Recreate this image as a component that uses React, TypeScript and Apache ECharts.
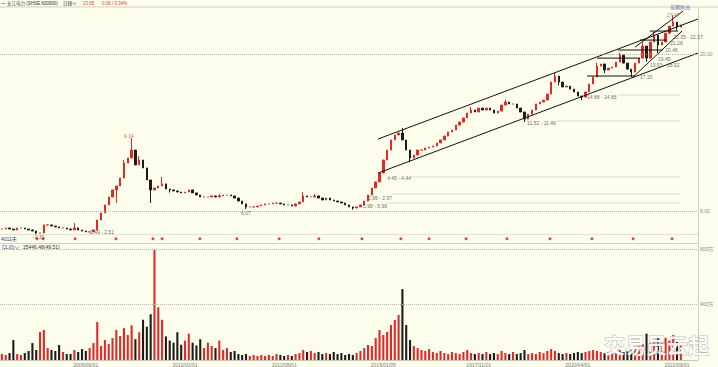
import React, { useEffect, useRef } from 'react';
import * as echarts from 'echarts';

// ---------- data ----------
const N_SLOTS = 183;

// close price of each bar (about 22 trading days per bar)
const closes = [
  6.62, 6.70, 6.62, 6.55, 6.70, 6.70, 6.62, 6.55, 6.47, 6.32,
  6.32, 6.93, 6.93, 6.85, 6.78, 6.70, 6.70, 6.62, 6.55, 6.70,
  6.55, 6.47, 6.40, 6.40, 6.55, 7.31, 7.85, 8.46, 9.07, 9.61,
  9.91, 10.52, 11.67, 12.05, 12.66, 11.52, 11.90, 11.29, 10.37, 9.61,
  9.76, 9.91, 10.07, 9.68, 9.61, 9.53, 9.45, 9.38, 9.45, 9.61,
  9.38, 9.22, 9.07, 9.07, 9.07, 9.15, 9.07, 9.15, 9.22, 9.22,
  9.15, 8.99, 8.76, 8.54, 8.31, 8.31, 8.31, 8.38, 8.46, 8.54,
  8.54, 8.61, 8.61, 8.54, 8.46, 8.46, 8.38, 8.54, 8.69, 9.15,
  9.07, 9.07, 9.15, 8.99, 8.84, 8.99, 8.84, 8.76, 8.69, 8.61,
  8.46, 8.31, 8.23, 8.31, 8.46, 8.76, 9.22, 9.76, 10.22, 10.90,
  11.90, 12.66, 13.43, 13.81, 13.96, 13.43, 12.66, 12.05, 12.28, 12.66,
  12.66, 12.82, 12.89, 12.97, 13.20, 13.43, 13.73, 14.04, 14.19, 14.57,
  14.80, 15.11, 15.49, 15.72, 15.57, 15.87, 15.72, 15.87, 15.72, 15.49,
  15.64, 16.10, 16.33, 16.18, 16.18, 15.87, 15.57, 15.03, 15.41, 15.72,
  16.18, 16.33, 16.48, 16.94, 17.86, 18.32, 17.86, 17.48, 17.55, 17.32,
  17.10, 16.79, 16.71, 17.10, 17.71, 18.24, 19.08, 19.24, 18.78, 18.93,
  19.01, 19.39, 19.92, 19.31, 18.85, 18.62, 19.31, 19.69, 20.61, 19.69,
  20.92, 21.45, 20.69, 20.92, 21.60, 22.14, 22.45, 22.06, 22.22,
];

// notable wicks: [bar index, price]
const highWicks: [number, number][] = [
  [19, 7.08], [32, 11.9], [34, 13.58], [36, 12.2], [42, 10.6], [57, 9.3], [79, 9.45], [82, 9.3],
  [105, 14.34], [123, 15.95], [132, 16.5], [145, 18.55], [156, 19.35], [162, 20.1], [168, 20.9], [171, 21.7], [176, 22.98],
];
const lowWicks: [number, number][] = [
  [9, 6.24], [30, 8.61], [39, 8.61], [44, 9.4], [64, 8.15], [92, 8.1], [107, 11.75], [120, 14.6],
  [137, 14.8], [146, 17.6], [152, 16.48], [158, 18.55], [165, 18.24], [169, 19.4], [172, 20.08], [177, 21.8],
];

// volume of each bar, 万
const volumes = [
  43, 36, 50, 144, 43, 36, 50, 65, 122, 72,
  202, 216, 86, 72, 65, 108, 58, 43, 43, 72,
  58, 79, 65, 86, 122, 274, 101, 144, 115, 158,
  216, 173, 230, 180, 250, 150, 200, 290, 240, 330,
  792, 380, 290, 170, 140, 125, 200, 110, 140, 190,
  125, 105, 150, 86, 125, 101, 86, 140, 72, 86,
  58, 65, 43, 36, 43, 29, 36, 29, 36, 29,
  36, 29, 43, 36, 29, 36, 29, 43, 50, 72,
  58, 65, 50, 58, 43, 50, 43, 58, 43, 50,
  36, 43, 36, 50, 65, 86, 108, 101, 158, 216,
  180, 202, 252, 288, 324, 511, 252, 144, 101, 86,
  72, 65, 79, 58, 50, 65, 50, 43, 58, 50,
  43, 58, 72, 50, 43, 50, 43, 58, 43, 50,
  43, 65, 50, 43, 58, 43, 50, 72, 43, 50,
  43, 58, 50, 65, 79, 65, 50, 43, 50, 43,
  50, 58, 50, 58, 65, 72, 65, 58, 50, 58,
  65, 58, 72, 58, 65, 72, 86, 101, 115, 190,
  120, 130, 170, 125, 160, 140, 180, 130, 110,
];

const dateLabelIdx = [22, 48, 74, 100, 125, 151, 177];
const dateLabels = ['2006/09/01', '2010/02/01', '2012/08/01', '2015/01/05', '2017/11/01', '2020/04/01', '2022/09/01'];

const priceTicks = [8, 20];
const volumeTicks = [400, 800];

// dividend markers (bar position)
const dividendIdx = [9.2, 10.8, 19.2, 29.9, 39.6, 42.0, 51.9, 61.6, 72.7, 83.1, 94.4, 104.6, 112.0, 121.7, 132.4, 143.7, 154.7, 165.5, 175.7];

// price annotations: text, bar position, price level
const annText = ['-2.30', '2.49 - 2.51', '9.14', '6.07', '5.98 - 5.98', '2.99 - 2.97', '4.45 - 4.44', '11.52 - 11.49', '14.88 - 14.86', '17.20', '19.53 - 18.92', '19.45', '20.46', '21.28', '22.35 - 22.37', '27.47', '前期新高'];
const annIdx = [8.15, 23.1, 32.0, 62.7, 94.7, 96.0, 101.0, 137.7, 153.4, 167.3, 169.9, 172.0, 173.9, 175.2, 176.0, 174.4, 175.2];
const annPrice = [6.01, 6.40, 13.73, 7.85, 8.38, 8.99, 10.52, 14.73, 16.71, 18.24, 19.16, 19.62, 20.31, 20.84, 21.30, 22.98, 23.62];
const annColor = ['#444', '#444', '#d23a3a', '#444', '#444', '#444', '#444', '#444', '#444', '#444', '#444', '#444', '#444', '#444', '#444', '#d23a3a', '#2a3a8a'];

// drawn trend lines: [x1, p1, x2, p2]
const trendLines: number[][] = [
  [98.6, 13.5, 182.5, 22.68],
  [98.6, 10.9, 182.5, 20.08],
  [165.5, 18.24, 178.3, 21.76],
  [166.0, 20.53, 178.6, 23.29],
  [153.4, 18.32, 166.0, 18.32],
  [156.0, 19.69, 167.3, 19.69],
  [161.5, 20.31, 173.3, 20.31],
  [167.3, 21.07, 174.4, 21.07],
  [169.9, 21.76, 177.3, 21.76],
];
// faint level guides: [x1, x2, price]
const guideLines: number[][] = [
  [102.3, 177.8, 9.3],
  [100.7, 177.8, 8.61],
  [107.3, 177.8, 10.6],
  [145.3, 177.8, 14.88],
  [161.5, 177.8, 16.87],
];

// ---------- chart ----------
const FONT = "'Liberation Sans', 'Noto Sans CJK SC', sans-serif";
const UP = '#e02a2a';
const DOWN = '#1c1c1c';

function buildOption() {
  const cats = Array.from({ length: N_SLOTS }, (_, i) => String(i));
  const hiMap = new Map(highWicks);
  const loMap = new Map(lowWicks);
  const candles = closes.map((c, i) => {
    const o = i > 0 ? closes[i - 1] : c;
    const lo = loMap.has(i) ? loMap.get(i)! : Math.min(o, c);
    const hi = hiMap.has(i) ? hiMap.get(i)! : Math.max(o, c);
    return [o, c, lo, hi];
  });
  const volData = volumes.map((v, i) => ({
    value: v,
    itemStyle: { color: candles[i][1] >= candles[i][0] ? UP : DOWN },
  }));

  const L = 0, W = 698;
  const series: any[] = [
    {
      type: 'candlestick', xAxisIndex: 0, yAxisIndex: 0, data: candles, barMaxWidth: 2,
      itemStyle: { color: UP, color0: DOWN, borderColor: UP, borderColor0: DOWN, borderWidth: 1 },
      markLine: {
        silent: true, symbol: ['none', 'none'], label: { show: false },
        lineStyle: { type: 'dotted', color: '#b5b5a8', width: 1 },
        data: priceTicks.map((v) => ({ yAxis: v })),
      },
    },
    {
      type: 'bar', xAxisIndex: 3, yAxisIndex: 2, data: volData, barWidth: '55%',
      markLine: {
        silent: true, symbol: ['none', 'none'], label: { show: false },
        lineStyle: { type: 'dotted', color: '#b5b5a8', width: 1 },
        data: volumeTicks.map((v) => ({ yAxis: v })),
      },
    },
    {
      type: 'scatter', xAxisIndex: 2, yAxisIndex: 1, symbol: 'circle', symbolSize: 3,
      itemStyle: { color: '#e01515' }, data: dividendIdx.map((x) => [x, 0.5]),
    },
    {
      type: 'scatter', xAxisIndex: 1, yAxisIndex: 0, symbolSize: 0, clip: false, z: 5,
      data: annText.map((t, i) => ({
        value: [annIdx[i], annPrice[i]],
        label: {
          show: true, formatter: t, position: 'right', distance: 0,
          fontSize: 5, color: annColor[i], fontFamily: FONT,
        },
      })),
    },
  ];
  guideLines.forEach((g) => {
    series.push({
      type: 'line', xAxisIndex: 1, yAxisIndex: 0, symbol: 'none', silent: true, z: 1,
      lineStyle: { color: '#dcdccc', width: 1 }, data: [[g[0], g[2]], [g[1], g[2]]],
    });
  });
  trendLines.forEach((t) => {
    series.push({
      type: 'line', xAxisIndex: 1, yAxisIndex: 0, symbol: 'none', silent: true, z: 4,
      lineStyle: { color: '#111', width: 1 }, data: [[t[0], t[1]], [t[2], t[3]]],
    });
  });

  const hiddenVal = (gridIndex: number) => ({
    type: 'value', gridIndex, min: -0.5, max: N_SLOTS - 0.5, show: false,
  });

  return {
    animation: false,
    backgroundColor: '#fefeec',
    grid: [
      { left: L, width: W, top: 10, height: 224.5 },
      { left: L, width: W, top: 234.5, height: 8.5 },
      { left: L, width: W, top: 243, height: 117 },
    ],
    xAxis: [
      { type: 'category', gridIndex: 0, data: cats, show: false },
      hiddenVal(0),
      hiddenVal(1),
      {
        type: 'category', gridIndex: 2, data: cats,
        axisLine: { show: true, lineStyle: { color: '#c8c8bc' } },
        axisTick: { show: false },
        axisLabel: {
          interval: (idx: number) => dateLabelIdx.includes(idx),
          formatter: (_v: string, idx: number) => dateLabels[dateLabelIdx.indexOf(idx)] ?? '',
          fontSize: 5, color: '#777', margin: 2, fontFamily: FONT,
        },
      },
    ],
    yAxis: [
      {
        type: 'value', gridIndex: 0, position: 'right', min: 6.2, max: 23.37,
        axisLine: { show: false }, axisTick: { show: false }, splitLine: { show: false },
        axisLabel: {
          customValues: priceTicks, formatter: (v: number) => v.toFixed(2),
          fontSize: 5, color: '#8a8a80', margin: 2, fontFamily: FONT,
        },
      },
      { type: 'value', gridIndex: 1, min: 0, max: 1, show: false },
      {
        type: 'value', gridIndex: 2, position: 'right', min: 0, max: 843,
        axisLine: { show: false }, axisTick: { show: false }, splitLine: { show: false },
        axisLabel: {
          customValues: volumeTicks, formatter: (v: number) => v + '万',
          fontSize: 5, color: '#8a8a80', margin: 2, fontFamily: FONT,
        },
      },
    ],
    graphic: [
      { type: 'line', shape: { x1: 0, y1: 7, x2: 718, y2: 7 }, style: { stroke: '#d0d0c4', lineWidth: 1 }, silent: true },
      { type: 'line', shape: { x1: 698.5, y1: 7, x2: 698.5, y2: 360 }, style: { stroke: '#d0d0c4', lineWidth: 1 }, silent: true },
      { type: 'line', shape: { x1: 0, y1: 234.5, x2: 698, y2: 234.5 }, style: { stroke: '#e2e2d4', lineWidth: 1 }, silent: true },
      { type: 'line', shape: { x1: 0, y1: 243.5, x2: 698, y2: 243.5 }, style: { stroke: '#cfcfc2', lineWidth: 1 }, silent: true },
      { type: 'text', x: 1, y: 3.5, style: { text: '•••', fontSize: 4, fill: '#666', verticalAlign: 'middle', fontFamily: FONT } },
      { type: 'text', x: 7, y: 3.5, style: { text: '长江电力 (SHSE 600900)', fontSize: 4.5, fill: '#333', verticalAlign: 'middle', fontFamily: FONT } },
      { type: 'text', x: 63, y: 3.5, style: { text: '日线∨', fontSize: 4.5, fill: '#333', verticalAlign: 'middle', fontFamily: FONT } },
      { type: 'text', x: 83, y: 3.5, style: { text: '23.65', fontSize: 4.5, fill: '#e04040', verticalAlign: 'middle', fontFamily: FONT } },
      { type: 'text', x: 102, y: 3.5, style: { text: '0.08 / 0.34%', fontSize: 4.5, fill: '#e04040', verticalAlign: 'middle', fontFamily: FONT } },
      { type: 'text', x: 1, y: 239, style: { text: '4011天', fontSize: 5, fill: '#334488', verticalAlign: 'middle', fontFamily: FONT } },
      { type: 'text', x: 2, y: 246.5, style: { text: 'CL(0)∨', fontSize: 5, fill: '#334488', verticalAlign: 'middle', fontFamily: FONT } },
      { type: 'text', x: 23, y: 246.5, style: { text: '25446.48(49.51)', fontSize: 5, fill: '#333', verticalAlign: 'middle', fontFamily: FONT } },
      {
        type: 'text', x: 604, y: 344, z: 100,
        style: {
          text: '交易员云起', fontSize: 21, fontWeight: 'bold', fill: 'rgba(255,255,255,0.92)',
          stroke: 'rgba(120,120,120,0.55)', lineWidth: 1, verticalAlign: 'middle', fontFamily: "'Noto Sans CJK SC', sans-serif",
        },
      },
    ],
    series,
  };
}

export default function App() {
  const ref = useRef<HTMLDivElement>(null);
  useEffect(() => {
    if (!ref.current) return;
    const chart = echarts.init(ref.current, null, { renderer: 'svg' });
    chart.setOption(buildOption() as any);
    return () => chart.dispose();
  }, []);
  return (
    <div
      ref={ref}
      style={{ position: 'fixed', left: 0, top: 0, width: 718, height: 367, background: '#fefeec' }}
    />
  );
}
